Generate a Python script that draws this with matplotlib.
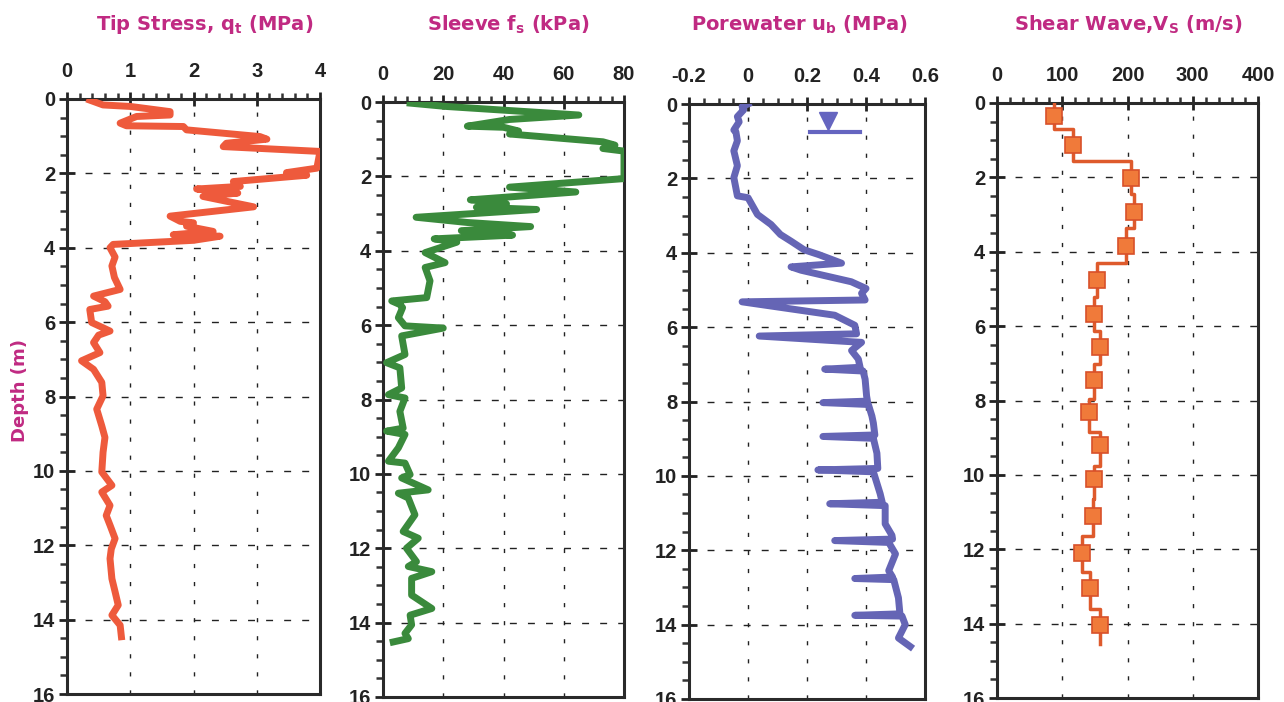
import numpy as np
import matplotlib.pyplot as plt
from matplotlib.ticker import MultipleLocator

plt.rcParams['font.family'] = ['Liberation Sans', 'DejaVu Sans']
plt.rcParams['font.weight'] = 'bold'
plt.rcParams['mathtext.fontset'] = 'custom'
plt.rcParams['mathtext.rm'] = 'DejaVu Sans:bold'
plt.rcParams['mathtext.it'] = 'DejaVu Sans:bold'
plt.rcParams['mathtext.default'] = 'rm'

# tip stress qt (MPa) vs depth (m)
qt_depth = [0.03, 0.16, 0.20, 0.34, 0.43, 0.47, 0.65, 0.72, 0.74, 0.83,
            1.01, 1.08, 1.19, 1.28, 1.41, 1.86, 1.98, 2.05, 2.22, 2.35,
            2.42, 2.53, 2.62, 2.90, 3.15, 3.29, 3.33, 3.42, 3.56, 3.65,
            3.69, 3.80, 3.91, 4.00, 4.25, 4.49, 4.80, 5.12, 5.30, 5.45,
            5.57, 5.66, 6.01, 6.24, 6.35, 6.55, 6.82, 7.04, 7.27, 7.62,
            7.98, 8.34, 8.79, 9.10, 9.50, 10.03, 10.39, 10.57, 10.93, 11.20,
            11.46, 11.82, 12.10, 12.36, 12.90, 13.25, 13.61, 13.88, 14.15, 14.46]
qt_val = [0.36, 0.57, 1.00, 1.63, 1.63, 1.10, 0.84, 0.94, 1.84, 1.89,
          3.05, 3.16, 2.52, 2.47, 4.00, 3.95, 3.47, 3.79, 2.63, 2.74,
          2.05, 2.70, 2.15, 2.95, 1.63, 1.79, 2.00, 1.89, 2.31, 1.68,
          2.42, 2.00, 0.73, 0.68, 0.76, 0.71, 0.75, 0.84, 0.42, 0.60,
          0.65, 0.36, 0.39, 0.68, 0.50, 0.42, 0.52, 0.23, 0.42, 0.55,
          0.57, 0.47, 0.55, 0.60, 0.57, 0.55, 0.71, 0.55, 0.68, 0.62,
          0.68, 0.76, 0.70, 0.68, 0.71, 0.76, 0.81, 0.71, 0.84, 0.86]

# sleeve friction fs (kPa)
fs_depth = [0.03, 0.12, 0.35, 0.47, 0.65, 0.68, 0.78, 0.86, 1.07, 1.16,
            1.25, 1.32, 2.06, 2.29, 2.42, 2.63, 2.74, 2.83, 2.89, 3.10,
            3.24, 3.35, 3.46, 3.58, 3.68, 3.77, 4.05, 4.32, 4.45, 4.81,
            5.26, 5.35, 5.45, 5.53, 5.80, 6.02, 6.08, 6.29, 6.79, 7.01,
            7.15, 7.69, 7.87, 7.96, 8.32, 8.77, 8.85, 8.94, 9.30, 9.66,
            9.71, 10.02, 10.11, 10.43, 10.52, 10.65, 11.10, 11.55, 11.73, 12.00,
            12.36, 12.49, 12.63, 12.81, 13.26, 13.62, 13.80, 14.06, 14.29, 14.43,
            14.52]
fs_val = [9, 21, 65, 42, 28, 40, 45, 42, 73, 77,
          73, 80, 80, 42, 64, 29, 41, 31, 51, 11,
          28, 49, 26, 43, 17, 24.5, 14, 20.6, 14, 15.6,
          14.5, 2.9, 5.7, 6.5, 5.1, 7.3, 20, 6.2, 7.3, 1.2,
          5.6, 6.2, 1.8, 7.3, 5.6, 6.7, 1.2, 7.3, 5.1, 1.8,
          7.3, 9, 6.2, 15, 5.1, 8.4, 10.6, 6.7, 11.7, 7.8,
          11.1, 8.4, 16.2, 9.5, 9.5, 16.2, 9, 9.5, 7.3, 8.4,
          3.4]

# porewater pressure ub (MPa)
u_depth = [0.00, 0.07, 0.16, 0.34, 0.48, 0.70, 0.75, 0.99, 1.26, 1.66,
           1.98, 2.47, 2.52, 2.97, 3.24, 3.51, 3.69, 3.92, 4.05, 4.28,
           4.38, 4.47, 4.78, 4.96, 5.09, 5.27, 5.32, 5.68, 5.95, 6.18,
           6.24, 6.41, 6.63, 6.86, 7.08, 7.13, 7.18, 7.40, 7.85, 7.99,
           8.03, 8.08, 8.39, 8.58, 8.90, 8.94, 8.99, 9.39, 9.80, 9.84,
           9.89, 10.48, 10.71, 10.75, 10.80, 11.29, 11.60, 11.70, 11.74, 11.79,
           12.10, 12.55, 12.72, 12.76, 12.79, 13.28, 13.71, 13.75, 13.77, 14.00,
           14.36, 14.59]
u_val = [0.000, -0.020, -0.015, -0.036, -0.030, -0.048, -0.041, -0.036, -0.048, -0.036,
         -0.048, -0.036, 0.000, 0.032, 0.078, 0.110, 0.146, 0.190, 0.240, 0.317,
         0.146, 0.180, 0.350, 0.400, 0.385, 0.397, -0.020, 0.294, 0.362, 0.368,
         0.038, 0.385, 0.351, 0.374, 0.380, 0.260, 0.390, 0.397, 0.402, 0.405,
         0.254, 0.408, 0.420, 0.425, 0.430, 0.254, 0.425, 0.437, 0.440, 0.237,
         0.425, 0.448, 0.455, 0.277, 0.465, 0.465, 0.488, 0.490, 0.294, 0.477,
         0.500, 0.477, 0.490, 0.362, 0.494, 0.510, 0.515, 0.362, 0.522, 0.533,
         0.510, 0.550]

# water table marker
wt_u, wt_depth = 0.27, 0.45
wt_line_u = [0.21, 0.38]
wt_line_depth = 0.75

# shear wave velocity layers (m/s)
vs_bounds = [0, 0.71, 1.57, 2.46, 3.35, 4.30, 5.23, 6.13, 7.03, 7.95,
             8.85, 9.75, 10.65, 11.65, 12.60, 13.60, 14.55]
vs_layer = [87, 116, 205, 210, 197, 154, 149, 158, 149, 141,
            158, 149, 147, 130, 142, 158]
vs_mark_depth = [0.35, 1.14, 2.02, 2.92, 3.84, 4.76, 5.67, 6.57, 7.45, 8.30,
                 9.20, 10.10, 11.10, 12.10, 13.05, 14.05]

title_col = '#c02a82'
W, H = 1284, 702
fig = plt.figure(figsize=(W / 100, H / 100), dpi=100)


def panel(left, right, top, xlim, xmajor, xminor, grid_x, labels=None):
    ax = fig.add_axes([left / W, (H - top - 595) / H, (right - left) / W, 595 / H])
    ax.set_xlim(*xlim)
    ax.set_ylim(16, 0)
    ax.xaxis.tick_top()
    ax.set_xticks(xmajor)
    if labels is not None:
        ax.set_xticklabels(labels)
    ax.xaxis.set_minor_locator(MultipleLocator(xminor))
    ax.yaxis.set_major_locator(MultipleLocator(2))
    ax.yaxis.set_minor_locator(MultipleLocator(0.5))
    ax.tick_params(axis='x', which='major', direction='inout', length=10, width=2,
                   top=True, bottom=False, pad=8, labelsize=14.5, colors='#222222')
    ax.tick_params(axis='x', which='minor', direction='out', length=4, width=1.8,
                   top=True, bottom=False, colors='#333333')
    ax.tick_params(axis='y', which='major', direction='inout', length=11, width=2,
                   left=True, right=False, pad=3, labelsize=14.5, colors='#222222')
    ax.tick_params(axis='y', which='minor', direction='out', length=5, width=1.8,
                   left=True, right=False, colors='#333333')
    for s in ax.spines.values():
        s.set_linewidth(2.2)
        s.set_color('#2a2a2a')
    for gx in grid_x:
        ax.axvline(gx, ls=(0, (3, 10)), lw=1, color='#222222', zorder=1)
    for gy in range(2, 16, 2):
        ax.axhline(gy, ls=(0, (5, 8)), lw=1, color='#222222', zorder=1)
    return ax


ax1 = panel(67, 320, 99, (0, 4), [0, 1, 2, 3, 4], 0.2, [1, 2, 3])
ax1.plot(qt_val, qt_depth, color='#ee5a3c', lw=5, solid_joinstyle='round', zorder=3)

ax2 = panel(383, 624, 102, (0, 80), [0, 20, 40, 60, 80], 4, [20, 40, 60])
ax2.plot(fs_val, fs_depth, color='#3a8a3c', lw=5, solid_joinstyle='round', zorder=3)

ax3 = panel(689, 925, 104, (-0.2, 0.6), [-0.2, 0, 0.2, 0.4, 0.6], 0.05, [0, 0.2, 0.4],
            labels=['-0.2', '0', '0.2', '0.4', '0.6'])
ax3.plot(u_val, u_depth, color='#6565b5', lw=5, solid_joinstyle='round', zorder=3)
ax3.plot([wt_u], [wt_depth], marker='v', ms=13, color='#6565c0', zorder=3)
ax3.plot(wt_line_u, [wt_line_depth] * 2, color='#6565c0', lw=3, zorder=3)

ax4 = panel(997, 1258, 103, (0, 400), [0, 100, 200, 300, 400], 20, [100, 200, 300])
step_d, step_v = [], []
for i, v in enumerate(vs_layer):
    step_d += [vs_bounds[i], vs_bounds[i + 1]]
    step_v += [v, v]
ax4.plot(step_v, step_d, color='#de5a2c', lw=2.5, zorder=3)
vs_mark_val = [vs_layer[np.searchsorted(vs_bounds, d) - 1] for d in vs_mark_depth]
ax4.plot(vs_mark_val, vs_mark_depth, ls='none', marker='s', ms=12,
         mfc='#f07a3a', mec='#d8502a', mew=1.2, zorder=4)

titles = [(205, 'Tip Stress, q$_t$ (MPa)'), (508, 'Sleeve f$_s$ (kPa)'),
          (799, 'Porewater u$_b$ (MPa)'), (1128, 'Shear Wave,V$_S$ (m/s)')]
for cx, t in titles:
    fig.text(cx / W, 1 - 25 / H, t, ha='center', va='center', color=title_col,
             fontsize=14, family='DejaVu Sans', weight='bold')

fig.text(20 / W, 1 - 390 / H, 'Depth (m)', rotation=90, ha='center', va='center',
         color=title_col, fontsize=13, family='DejaVu Sans', weight='bold')

fig.savefig('out.png', dpi=100, facecolor='white')
